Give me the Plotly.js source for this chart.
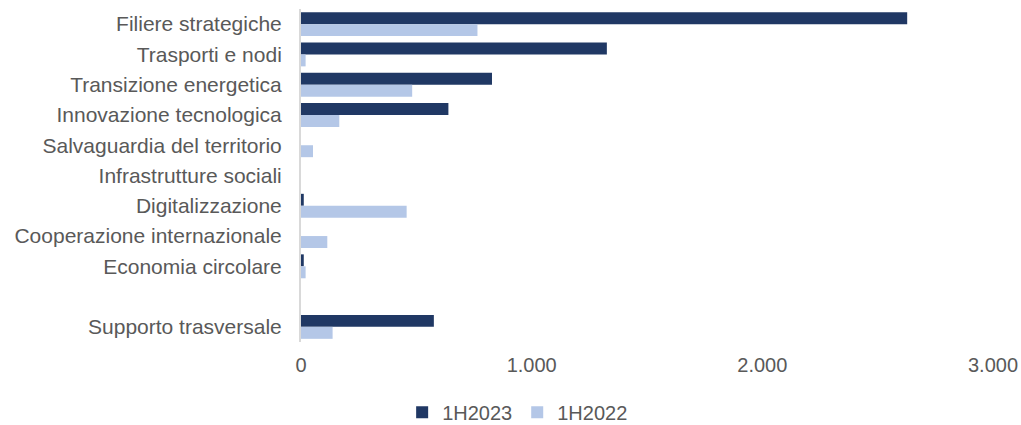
<!DOCTYPE html>
<html>
<head>
<meta charset="utf-8">
<script src="https://cdn.plot.ly/plotly-3.0.1.min.js"></script>
<style>html,body{margin:0;padding:0;background:#fff;}#chart{width:1021px;height:425px;}</style>
</head>
<body>
<div id="chart"></div>
<script>
var categories = [
  "Filiere strategiche",
  "Trasporti e nodi",
  "Transizione energetica",
  "Innovazione tecnologica",
  "Salvaguardia del territorio",
  "Infrastrutture sociali",
  "Digitalizzazione",
  "Cooperazione internazionale",
  "Economia circolare",
  " ",
  "Supporto trasversale"
];
var values1H2023 = [2628, 1326, 828, 639, 0, 0, 12, 0, 12, null, 576];
var values1H2022 = [765, 20, 482, 166, 52, 0, 458, 114, 20, null, 137];
var xTickVals = [0, 1000, 2000, 3000];
var xTickText = ["0", "1.000", "2.000", "3.000"];

var font = {family: "Liberation Sans, Arial, sans-serif", size: 20, color: "#595959"};
var catFont = {family: "Liberation Sans, Arial, sans-serif", size: 21, color: "#595959"};

var traces = [
  {type: "bar", orientation: "h", name: "1H2023", y: categories, x: values1H2023,
   marker: {color: "#203864", line: {width: 0}}},
  {type: "bar", orientation: "h", name: "1H2022", y: categories, x: values1H2022,
   marker: {color: "#B4C7E7", line: {width: 0}}}
];

var layout = {
  width: 1021, height: 425,
  margin: {l: 301, r: 28, t: 9, b: 83},
  paper_bgcolor: "#fff", plot_bgcolor: "#fff",
  font: font,
  barmode: "group", bargap: 0.21, bargroupgap: 0,
  showlegend: true,
  legend: {orientation: "h", xref: "container", yref: "container", x: 0.507, xanchor: "center",
           y: 0.03, yanchor: "middle", font: font, itemwidth: 30, traceorder: "normal"},
  xaxis: {range: [0, 3000], tickvals: xTickVals, ticktext: xTickText, showgrid: false,
          zeroline: false, showline: false, ticks: "", ticklabelstandoff: 9, tickfont: font,
          fixedrange: true},
  yaxis: {type: "category", categoryorder: "array", categoryarray: categories,
          autorange: "reversed", showgrid: false, zeroline: false,
          showline: true, linecolor: "#d9d9d9", linewidth: 2, ticks: "",
          ticklabelstandoff: 13, tickfont: catFont, fixedrange: true}
};

Plotly.newPlot("chart", traces, layout, {staticPlot: true, displayModeBar: false});
</script>
</body>
</html>
